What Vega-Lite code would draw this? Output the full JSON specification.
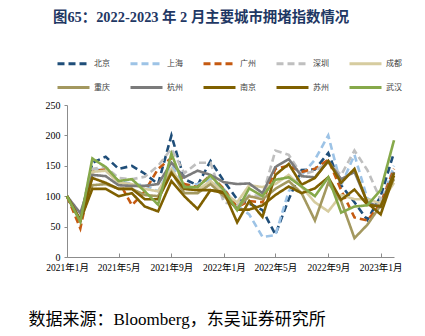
{
"$schema": "https://vega.github.io/schema/vega-lite/v6.json",
"width": 327, "height": 152,
"autosize": {"type": "none"},
"padding": {"left": 67, "top": 105, "right": 31, "bottom": 79},
"background": "white",
"title": {"text": "图65：2022-2023 年 2 月主要城市拥堵指数情况", "anchor": "start", "frame": "group", "dx": -14, "font": "Liberation Serif, Noto Sans CJK SC", "fontSize": 14.4, "fontWeight": "bold", "color": "#1F3864", "offset": 21},
"config": {"view": {"stroke": null}},
"data": {"values": [
{"date":"2021-01-01","city":"北京","value":100},{"date":"2021-02-01","city":"北京","value":60},{"date":"2021-03-01","city":"北京","value":155},{"date":"2021-04-01","city":"北京","value":165},{"date":"2021-05-01","city":"北京","value":145},{"date":"2021-06-01","city":"北京","value":150},{"date":"2021-07-01","city":"北京","value":137},{"date":"2021-08-01","city":"北京","value":120},{"date":"2021-09-01","city":"北京","value":200},{"date":"2021-10-01","city":"北京","value":128},{"date":"2021-11-01","city":"北京","value":118},{"date":"2021-12-01","city":"北京","value":158},{"date":"2022-01-01","city":"北京","value":125},{"date":"2022-02-01","city":"北京","value":95},{"date":"2022-03-01","city":"北京","value":88},{"date":"2022-04-01","city":"北京","value":77},{"date":"2022-05-01","city":"北京","value":37},{"date":"2022-06-01","city":"北京","value":95},{"date":"2022-07-01","city":"北京","value":143},{"date":"2022-08-01","city":"北京","value":144},{"date":"2022-09-01","city":"北京","value":171},{"date":"2022-10-01","city":"北京","value":118},{"date":"2022-11-01","city":"北京","value":90},{"date":"2022-12-01","city":"北京","value":61},{"date":"2023-01-01","city":"北京","value":100},{"date":"2023-02-01","city":"北京","value":172},
{"date":"2021-01-01","city":"上海","value":100},{"date":"2021-02-01","city":"上海","value":65},{"date":"2021-03-01","city":"上海","value":145},{"date":"2021-04-01","city":"上海","value":142},{"date":"2021-05-01","city":"上海","value":125},{"date":"2021-06-01","city":"上海","value":120},{"date":"2021-07-01","city":"上海","value":118},{"date":"2021-08-01","city":"上海","value":108},{"date":"2021-09-01","city":"上海","value":150},{"date":"2021-10-01","city":"上海","value":118},{"date":"2021-11-01","city":"上海","value":120},{"date":"2021-12-01","city":"上海","value":128},{"date":"2022-01-01","city":"上海","value":112},{"date":"2022-02-01","city":"上海","value":85},{"date":"2022-03-01","city":"上海","value":70},{"date":"2022-04-01","city":"上海","value":33},{"date":"2022-05-01","city":"上海","value":36},{"date":"2022-06-01","city":"上海","value":108},{"date":"2022-07-01","city":"上海","value":135},{"date":"2022-08-01","city":"上海","value":160},{"date":"2022-09-01","city":"上海","value":200},{"date":"2022-10-01","city":"上海","value":118},{"date":"2022-11-01","city":"上海","value":168},{"date":"2022-12-01","city":"上海","value":96},{"date":"2023-01-01","city":"上海","value":88},{"date":"2023-02-01","city":"上海","value":150},
{"date":"2021-01-01","city":"广州","value":100},{"date":"2021-02-01","city":"广州","value":47},{"date":"2021-03-01","city":"广州","value":140},{"date":"2021-04-01","city":"广州","value":145},{"date":"2021-05-01","city":"广州","value":125},{"date":"2021-06-01","city":"广州","value":85},{"date":"2021-07-01","city":"广州","value":108},{"date":"2021-08-01","city":"广州","value":145},{"date":"2021-09-01","city":"广州","value":163},{"date":"2021-10-01","city":"广州","value":120},{"date":"2021-11-01","city":"广州","value":115},{"date":"2021-12-01","city":"广州","value":135},{"date":"2022-01-01","city":"广州","value":112},{"date":"2022-02-01","city":"广州","value":82},{"date":"2022-03-01","city":"广州","value":92},{"date":"2022-04-01","city":"广州","value":90},{"date":"2022-05-01","city":"广州","value":145},{"date":"2022-06-01","city":"广州","value":150},{"date":"2022-07-01","city":"广州","value":140},{"date":"2022-08-01","city":"广州","value":145},{"date":"2022-09-01","city":"广州","value":160},{"date":"2022-10-01","city":"广州","value":110},{"date":"2022-11-01","city":"广州","value":65},{"date":"2022-12-01","city":"广州","value":60},{"date":"2023-01-01","city":"广州","value":88},{"date":"2023-02-01","city":"广州","value":145},
{"date":"2021-01-01","city":"深圳","value":100},{"date":"2021-02-01","city":"深圳","value":62},{"date":"2021-03-01","city":"深圳","value":145},{"date":"2021-04-01","city":"深圳","value":148},{"date":"2021-05-01","city":"深圳","value":130},{"date":"2021-06-01","city":"深圳","value":128},{"date":"2021-07-01","city":"深圳","value":132},{"date":"2021-08-01","city":"深圳","value":150},{"date":"2021-09-01","city":"深圳","value":178},{"date":"2021-10-01","city":"深圳","value":138},{"date":"2021-11-01","city":"深圳","value":155},{"date":"2021-12-01","city":"深圳","value":155},{"date":"2022-01-01","city":"深圳","value":90},{"date":"2022-02-01","city":"深圳","value":85},{"date":"2022-03-01","city":"深圳","value":102},{"date":"2022-04-01","city":"深圳","value":100},{"date":"2022-05-01","city":"深圳","value":175},{"date":"2022-06-01","city":"深圳","value":168},{"date":"2022-07-01","city":"深圳","value":135},{"date":"2022-08-01","city":"深圳","value":142},{"date":"2022-09-01","city":"深圳","value":155},{"date":"2022-10-01","city":"深圳","value":135},{"date":"2022-11-01","city":"深圳","value":175},{"date":"2022-12-01","city":"深圳","value":143},{"date":"2023-01-01","city":"深圳","value":94},{"date":"2023-02-01","city":"深圳","value":130},
{"date":"2021-01-01","city":"成都","value":100},{"date":"2021-02-01","city":"成都","value":62},{"date":"2021-03-01","city":"成都","value":140},{"date":"2021-04-01","city":"成都","value":142},{"date":"2021-05-01","city":"成都","value":122},{"date":"2021-06-01","city":"成都","value":120},{"date":"2021-07-01","city":"成都","value":112},{"date":"2021-08-01","city":"成都","value":108},{"date":"2021-09-01","city":"成都","value":145},{"date":"2021-10-01","city":"成都","value":112},{"date":"2021-11-01","city":"成都","value":110},{"date":"2021-12-01","city":"成都","value":125},{"date":"2022-01-01","city":"成都","value":105},{"date":"2022-02-01","city":"成都","value":90},{"date":"2022-03-01","city":"成都","value":118},{"date":"2022-04-01","city":"成都","value":115},{"date":"2022-05-01","city":"成都","value":120},{"date":"2022-06-01","city":"成都","value":135},{"date":"2022-07-01","city":"成都","value":115},{"date":"2022-08-01","city":"成都","value":90},{"date":"2022-09-01","city":"成都","value":75},{"date":"2022-10-01","city":"成都","value":102},{"date":"2022-11-01","city":"成都","value":95},{"date":"2022-12-01","city":"成都","value":95},{"date":"2023-01-01","city":"成都","value":88},{"date":"2023-02-01","city":"成都","value":122},
{"date":"2021-01-01","city":"重庆","value":100},{"date":"2021-02-01","city":"重庆","value":60},{"date":"2021-03-01","city":"重庆","value":118},{"date":"2021-04-01","city":"重庆","value":120},{"date":"2021-05-01","city":"重庆","value":112},{"date":"2021-06-01","city":"重庆","value":112},{"date":"2021-07-01","city":"重庆","value":102},{"date":"2021-08-01","city":"重庆","value":100},{"date":"2021-09-01","city":"重庆","value":140},{"date":"2021-10-01","city":"重庆","value":105},{"date":"2021-11-01","city":"重庆","value":105},{"date":"2021-12-01","city":"重庆","value":120},{"date":"2022-01-01","city":"重庆","value":100},{"date":"2022-02-01","city":"重庆","value":80},{"date":"2022-03-01","city":"重庆","value":100},{"date":"2022-04-01","city":"重庆","value":95},{"date":"2022-05-01","city":"重庆","value":112},{"date":"2022-06-01","city":"重庆","value":125},{"date":"2022-07-01","city":"重庆","value":105},{"date":"2022-08-01","city":"重庆","value":60},{"date":"2022-09-01","city":"重庆","value":122},{"date":"2022-10-01","city":"重庆","value":92},{"date":"2022-11-01","city":"重庆","value":31},{"date":"2022-12-01","city":"重庆","value":53},{"date":"2023-01-01","city":"重庆","value":85},{"date":"2023-02-01","city":"重庆","value":128},
{"date":"2021-01-01","city":"杭州","value":100},{"date":"2021-02-01","city":"杭州","value":72},{"date":"2021-03-01","city":"杭州","value":135},{"date":"2021-04-01","city":"杭州","value":133},{"date":"2021-05-01","city":"杭州","value":118},{"date":"2021-06-01","city":"杭州","value":117},{"date":"2021-07-01","city":"杭州","value":117},{"date":"2021-08-01","city":"杭州","value":120},{"date":"2021-09-01","city":"杭州","value":155},{"date":"2021-10-01","city":"杭州","value":131},{"date":"2021-11-01","city":"杭州","value":142},{"date":"2021-12-01","city":"杭州","value":135},{"date":"2022-01-01","city":"杭州","value":123},{"date":"2022-02-01","city":"杭州","value":120},{"date":"2022-03-01","city":"杭州","value":121},{"date":"2022-04-01","city":"杭州","value":105},{"date":"2022-05-01","city":"杭州","value":148},{"date":"2022-06-01","city":"杭州","value":161},{"date":"2022-07-01","city":"杭州","value":133},{"date":"2022-08-01","city":"杭州","value":131},{"date":"2022-09-01","city":"杭州","value":158},{"date":"2022-10-01","city":"杭州","value":128},{"date":"2022-11-01","city":"杭州","value":140},{"date":"2022-12-01","city":"杭州","value":90},{"date":"2023-01-01","city":"杭州","value":82},{"date":"2023-02-01","city":"杭州","value":140},
{"date":"2021-01-01","city":"南京","value":100},{"date":"2021-02-01","city":"南京","value":60},{"date":"2021-03-01","city":"南京","value":130},{"date":"2021-04-01","city":"南京","value":122},{"date":"2021-05-01","city":"南京","value":112},{"date":"2021-06-01","city":"南京","value":112},{"date":"2021-07-01","city":"南京","value":95},{"date":"2021-08-01","city":"南京","value":95},{"date":"2021-09-01","city":"南京","value":138},{"date":"2021-10-01","city":"南京","value":112},{"date":"2021-11-01","city":"南京","value":110},{"date":"2021-12-01","city":"南京","value":110},{"date":"2022-01-01","city":"南京","value":107},{"date":"2022-02-01","city":"南京","value":57},{"date":"2022-03-01","city":"南京","value":92},{"date":"2022-04-01","city":"南京","value":66},{"date":"2022-05-01","city":"南京","value":135},{"date":"2022-06-01","city":"南京","value":153},{"date":"2022-07-01","city":"南京","value":119},{"date":"2022-08-01","city":"南京","value":130},{"date":"2022-09-01","city":"南京","value":158},{"date":"2022-10-01","city":"南京","value":122},{"date":"2022-11-01","city":"南京","value":145},{"date":"2022-12-01","city":"南京","value":89},{"date":"2023-01-01","city":"南京","value":70},{"date":"2023-02-01","city":"南京","value":134},
{"date":"2021-01-01","city":"苏州","value":100},{"date":"2021-02-01","city":"苏州","value":60},{"date":"2021-03-01","city":"苏州","value":112},{"date":"2021-04-01","city":"苏州","value":112},{"date":"2021-05-01","city":"苏州","value":100},{"date":"2021-06-01","city":"苏州","value":105},{"date":"2021-07-01","city":"苏州","value":83},{"date":"2021-08-01","city":"苏州","value":75},{"date":"2021-09-01","city":"苏州","value":125},{"date":"2021-10-01","city":"苏州","value":100},{"date":"2021-11-01","city":"苏州","value":79},{"date":"2021-12-01","city":"苏州","value":110},{"date":"2022-01-01","city":"苏州","value":105},{"date":"2022-02-01","city":"苏州","value":78},{"date":"2022-03-01","city":"苏州","value":78},{"date":"2022-04-01","city":"苏州","value":85},{"date":"2022-05-01","city":"苏州","value":102},{"date":"2022-06-01","city":"苏州","value":116},{"date":"2022-07-01","city":"苏州","value":105},{"date":"2022-08-01","city":"苏州","value":113},{"date":"2022-09-01","city":"苏州","value":131},{"date":"2022-10-01","city":"苏州","value":94},{"date":"2022-11-01","city":"苏州","value":111},{"date":"2022-12-01","city":"苏州","value":86},{"date":"2023-01-01","city":"苏州","value":83},{"date":"2023-02-01","city":"苏州","value":138},
{"date":"2021-01-01","city":"武汉","value":100},{"date":"2021-02-01","city":"武汉","value":58},{"date":"2021-03-01","city":"武汉","value":162},{"date":"2021-04-01","city":"武汉","value":148},{"date":"2021-05-01","city":"武汉","value":125},{"date":"2021-06-01","city":"武汉","value":128},{"date":"2021-07-01","city":"武汉","value":108},{"date":"2021-08-01","city":"武汉","value":86},{"date":"2021-09-01","city":"武汉","value":170},{"date":"2021-10-01","city":"武汉","value":115},{"date":"2021-11-01","city":"武汉","value":115},{"date":"2021-12-01","city":"武汉","value":134},{"date":"2022-01-01","city":"武汉","value":110},{"date":"2022-02-01","city":"武汉","value":77},{"date":"2022-03-01","city":"武汉","value":113},{"date":"2022-04-01","city":"武汉","value":100},{"date":"2022-05-01","city":"武汉","value":127},{"date":"2022-06-01","city":"武汉","value":131},{"date":"2022-07-01","city":"武汉","value":116},{"date":"2022-08-01","city":"武汉","value":100},{"date":"2022-09-01","city":"武汉","value":131},{"date":"2022-10-01","city":"武汉","value":73},{"date":"2022-11-01","city":"武汉","value":83},{"date":"2022-12-01","city":"武汉","value":85},{"date":"2023-01-01","city":"武汉","value":110},{"date":"2023-02-01","city":"武汉","value":192}
]},
"mark": {"type": "line", "strokeWidth": 2.6},
"encoding": {
  "x": {"field": "date", "type": "temporal",
    "scale": {"type": "utc", "domain": [{"year": 2021, "month": 1, "date": 1, "utc": true}, {"year": 2023, "month": 2, "date": 1, "utc": true}]},
    "axis": {"tickCount": {"interval": "month", "step": 4}, "labelExpr": "utcFormat(datum.value, '%Y年%-m月')", "grid": false, "domainColor": "#8C8C8C", "tickColor": "#8C8C8C", "tickSize": -4, "labelPadding": 9, "labelFont": "Liberation Serif, Noto Sans CJK SC", "labelFontSize": 9.5, "labelColor": "#000000", "labelFlush": false, "labelOverlap": false,
      "title": "数据来源：Bloomberg，东吴证券研究所", "titleX": -39, "titleY": 62, "titleAlign": "left", "titleAnchor": "start", "titleBaseline": "middle", "titleFont": "Liberation Serif, Noto Sans CJK SC", "titleFontSize": 17, "titleFontWeight": "normal", "titleColor": "#000000"}},
  "y": {"field": "value", "type": "quantitative", "scale": {"domain": [0, 250]},
    "axis": {"values": [0, 50, 100, 150, 200, 250], "grid": false, "domainColor": "#8C8C8C", "tickColor": "#8C8C8C", "tickSize": 3, "labelPadding": 4, "labelFont": "Liberation Serif", "labelFontSize": 10, "labelColor": "#000000", "title": null}},
  "color": {"field": "city", "type": "nominal",
    "scale": {"domain": ["北京", "上海", "广州", "深圳", "成都", "重庆", "杭州", "南京", "苏州", "武汉"], "range": ["#1F4E79", "#9DC3E6", "#C55A11", "#BFBFBF", "#D6CC9F", "#A3985F", "#7B7B7B", "#7F6000", "#7F6000", "#86A94A"]},
    "legend": {"orient": "none", "legendX": -11, "legendY": -59, "direction": "horizontal", "columns": 5, "title": null, "symbolType": "stroke", "symbolSize": 1024, "symbolStrokeWidth": 3, "labelFont": "Noto Sans CJK SC", "labelFontSize": 8, "labelColor": "#404040", "labelOffset": 3, "columnPadding": 14, "rowPadding": 0}},
  "strokeDash": {"field": "city", "type": "nominal",
    "scale": {"domain": ["北京", "上海", "广州", "深圳", "成都", "重庆", "杭州", "南京", "苏州", "武汉"], "range": [[7, 4], [7, 4], [7, 4], [7, 4], [1, 0], [1, 0], [1, 0], [1, 0], [1, 0], [1, 0]]},
    "legend": {"orient": "none", "legendX": -11, "legendY": -59, "direction": "horizontal", "columns": 5, "title": null, "symbolType": "stroke", "symbolSize": 1024, "symbolStrokeWidth": 3, "labelFont": "Noto Sans CJK SC", "labelFontSize": 8, "labelColor": "#404040", "labelOffset": 3, "columnPadding": 14, "rowPadding": 0}}
}
}
